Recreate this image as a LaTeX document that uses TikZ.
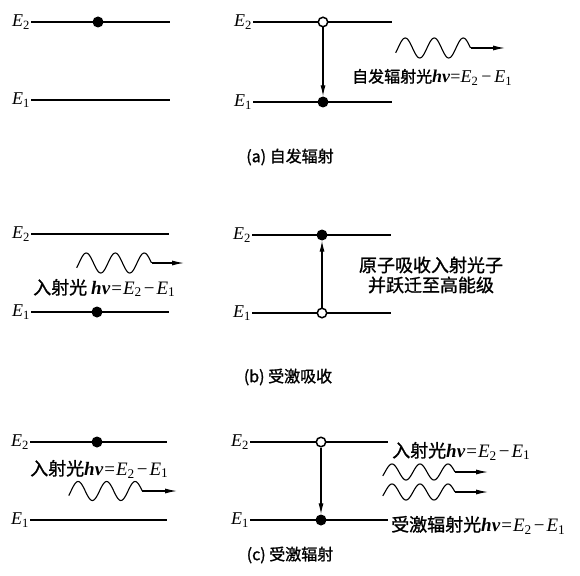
\documentclass[tikz,border=0pt]{standalone}
\usepackage{fontspec}
\setmainfont{Liberation Serif}
\newfontfamily\cjk[FakeBold=1.2]{Noto Sans CJK SC}
\usetikzlibrary{arrows.meta}

% energy-level label E_n
\newcommand\En[1]{\textit{E}\textsubscript{#1}}
\newcommand\hnu{\textbf{\textit{hν}}}
\newcommand\relE{{\rmfamily\fontsize{19}{19}\selectfont\hnu\kern1pt=\kern1pt\En{2}\kern2pt−\kern2pt\En{1}}}

\tikzset{
  level/.style={line width=1.1pt},
  elabel/.style={anchor=east, inner sep=1pt, font=\fontsize{18}{18}\selectfont},
  fulldot/.style={circle, fill=black, inner sep=0pt, minimum size=11pt},
  emptydot/.style={circle, draw=black, fill=white, line width=1.5pt, inner sep=0pt, minimum size=9.5pt},
  trans/.style={line width=1.1pt, -{Latex[length=11pt,width=5pt]}},
  photon/.style={line width=1.1pt},
  photontip/.style={line width=1.1pt, -{Latex[length=12pt,width=5pt]}},
  txt/.style={inner sep=0pt, font=\cjk\fontsize{18}{20}\selectfont},
  caption/.style={inner sep=0pt, font=\cjk\fontsize{16}{16}\selectfont},
}

% wavy photon: start x, centre y, name, amplitude, period
\newcommand\photonwave[5]{%
  \draw[photon] plot[domain=-0.08:2.5, samples=90, smooth]
    ({#1 + \x*#5}, {#2 - #4*sin(\x*360)});
  \coordinate (#3s) at ({#1 + 2.5*#5}, #2);
}

\begin{document}
\begin{tikzpicture}[x=1pt, y=-1pt]
\useasboundingbox (0,0) rectangle (580,575);

% ---------------- (a) spontaneous emission ----------------
\coordinate (aL2a) at (31,22);  \coordinate (aL2b) at (170,22);
\coordinate (aL1a) at (31,100); \coordinate (aL1b) at (170,100);
\draw[level] (aL2a) -- (aL2b);
\draw[level] (aL1a) -- (aL1b);
\node[elabel] (aE2) at (aL2a) {\En{2}};
\node[elabel] (aE1) at (aL1a) {\En{1}};
\node[fulldot] (adot) at (98,22) {};

\coordinate (aR2a) at (253,22);  \coordinate (aR2b) at (392,22);
\coordinate (aR1a) at (253,102); \coordinate (aR1b) at (392,102);
\draw[level] (aR2a) -- (aR2b);
\draw[level] (aR1a) -- (aR1b);
\node[elabel] (aE2r) at (aR2a) {\En{2}};
\node[elabel] (aE1r) at (aR1a) {\En{1}};
\node[emptydot] (aup) at (323,22) {};
\node[fulldot] (adown) at (323,102) {};
\draw[trans] (aup) -- (adown);

\photonwave{398}{48}{aw}{10}{29}
\coordinate (awt) at (505,48);
\draw[photontip] (aws) -- (awt);
\node[txt, anchor=west, font=\cjk\fontsize{16}{20}\selectfont] (atext) at (352,77) {自发辐射光{\rmfamily\fontsize{18}{18}\selectfont\hnu=\En{2}\,−\,\En{1}}};

\node[caption] (acap) at (290,157) {(a) 自发辐射};

% ---------------- (b) stimulated absorption ----------------
\coordinate (bL2a) at (31,234);  \coordinate (bL2b) at (169,234);
\coordinate (bL1a) at (31,312);  \coordinate (bL1b) at (169,312);
\draw[level] (bL2a) -- (bL2b);
\draw[level] (bL1a) -- (bL1b);
\node[elabel] (bE2) at (bL2a) {\En{2}};
\node[elabel] (bE1) at (bL1a) {\En{1}};
\node[fulldot] (bdot) at (97,312) {};

\photonwave{79}{263}{bw}{10}{29}
\coordinate (bwt) at (184,263);
\draw[photontip] (bws) -- (bwt);
\node[txt, anchor=west] (btext) at (33,288) {入射光 \relE};

\coordinate (bR2a) at (252,235); \coordinate (bR2b) at (391,235);
\coordinate (bR1a) at (252,313); \coordinate (bR1b) at (391,313);
\draw[level] (bR2a) -- (bR2b);
\draw[level] (bR1a) -- (bR1b);
\node[elabel] (bE2r) at (bR2a) {\En{2}};
\node[elabel] (bE1r) at (bR1a) {\En{1}};
\node[emptydot] (blow) at (322,313) {};
\node[fulldot] (bhigh) at (322,235) {};
\draw[trans] (blow) -- (bhigh);
\node[txt, align=center, font=\cjk\fontsize{18}{20}\selectfont] (btext2) at (431,275) {原子吸收入射光子\\并跃迁至高能级};

\node[caption] (bcap) at (288,377) {(b) 受激吸收};

% ---------------- (c) stimulated emission ----------------
\coordinate (cL2a) at (30,442);  \coordinate (cL2b) at (167,442);
\coordinate (cL1a) at (30,520);  \coordinate (cL1b) at (167,520);
\draw[level] (cL2a) -- (cL2b);
\draw[level] (cL1a) -- (cL1b);
\node[elabel] (cE2) at (cL2a) {\En{2}};
\node[elabel] (cE1) at (cL1a) {\En{1}};
\node[fulldot] (cdot) at (97,442) {};

\node[txt, anchor=west] (ctext) at (30,469) {入射光\relE};
\photonwave{71}{491}{cw}{9.5}{28.5}
\coordinate (cwt) at (177,491);
\draw[photontip] (cws) -- (cwt);

\coordinate (cR2a) at (250,442); \coordinate (cR2b) at (388,442);
\coordinate (cR1a) at (250,520); \coordinate (cR1b) at (388,520);
\draw[level] (cR2a) -- (cR2b);
\draw[level] (cR1a) -- (cR1b);
\node[elabel] (cE2r) at (cR2a) {\En{2}};
\node[elabel] (cE1r) at (cR1a) {\En{1}};
\node[emptydot] (cup) at (321,442) {};
\node[fulldot] (cdown) at (321,520) {};
\draw[trans] (cup) -- (cdown);

\node[txt, anchor=west] (ctext2) at (392,451) {入射光\relE};
\photonwave{385}{472}{cwa}{8}{28}
\coordinate (cwat) at (488,472);
\draw[photontip] (cwas) -- (cwat);
\photonwave{385}{492}{cwb}{8}{28}
\coordinate (cwbt) at (488,492);
\draw[photontip] (cwbs) -- (cwbt);
\node[txt, anchor=west] (ctext3) at (391,525) {受激辐射光\relE};

\node[caption] (ccap) at (290,555) {(c) 受激辐射};
\end{tikzpicture}
\end{document}
